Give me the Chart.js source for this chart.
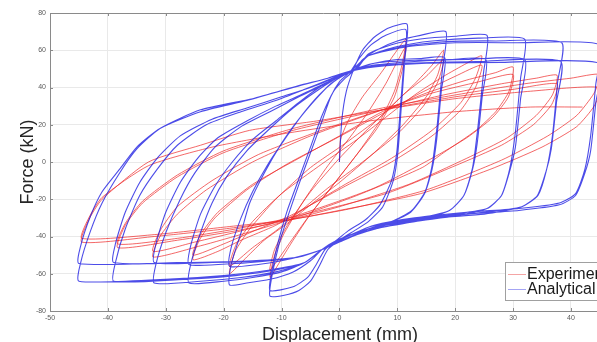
<!DOCTYPE html>
<html lang="en">
<head>
<meta charset="UTF-8">
<title>Force - Displacement</title>
<script src="https://cdn.jsdelivr.net/npm/chart.js"></script>
<style>
  html, body { margin: 0; padding: 0; background: #fff; }
</style>
</head>
<body>
<canvas id="myChart" width="597" height="342"></canvas>
<script>
// tick labels
const xTicks = [-50, -40, -30, -20, -10, 0, 10, 20, 30, 40]
const yTicks = [-80, -60, -40, -20, 0, 20, 40, 60, 80]

// Experimental loops [displacement mm, force kN]
const expLoop12 = [[0,0],[0.2,12],[1.5,22],[4,35],[7,47],[9.5,58],[11.5,66],
  [10.8,52],[9.5,38],[7,22],[3,4],[-1,-12],[-5,-28],[-8,-42],[-10,-52],[-12,-62],
  [-11.2,-50],[-9.5,-38],[-6,-20],[-2,-2],[2,14],[5,27],[8,42],[10,54],[11.5,62],
  [10.9,50],[9.5,35],[6.5,18],[2.5,2],[-1.5,-14],[-5.5,-30],[-8.5,-43],[-12,-58],
  [-11.2,-47],[-9,-34],[-5,-16],[0,2],[5,18],[9,30],[13,42],[16,52],[18,60]]
const expLoop18 = [[17,47],[15,35],[11,20],[6,5],[0,-11],[-5,-23],[-9,-33],[-13,-42],[-16,-51],[-19,-60],
  [-18,-48],[-15.5,-36],[-11,-20],[-5,-3],[1,10],[7,24],[11,36],[15,46],[18,55],
  [17,43],[14.5,30],[10,15],[4,0],[-2,-14],[-7,-27],[-11,-37],[-15,-46],[-19,-56],
  [-17.8,-44],[-15,-32],[-10,-17],[-3,-1],[3,12],[8,24],[13,36],[18,46],[22,53],[24.6,57]]
const expLoop25 = [[23.5,45],[21,32],[16,17],[9,2],[1,-12],[-6,-25],[-11,-34],[-17,-42],[-21,-48],[-25.3,-52.5],
  [-24.2,-42],[-21.5,-30],[-16,-15],[-9,-1],[-1,12],[7.4,26],[14,37],[20,46],[24.6,52],
  [23.5,40],[21,28],[16,14],[9,0],[1,-13],[-8.6,-29],[-14,-36],[-20,-44],[-25.3,-50],
  [-24,-39],[-21,-27],[-15,-12],[-7,2],[0,14],[7.4,27],[15,37],[22,44],[27,48],[30,51]]
const expLoop31 = [[29.3,38],[27,27],[23.6,17],[18,5],[14.3,-3],[3,-18],[-8.6,-31],[-16,-38],[-24,-45],[-32.2,-51],
  [-31,-40],[-28,-28],[-23,-15],[-15,0],[-5,14],[7.4,28],[16,37],[24,43],[30,47],
  [29.2,35],[26.5,24],[22,13],[16,2],[6,-14],[-8.6,-30],[-17,-37],[-25,-43],[-32.2,-48],
  [-31,-37],[-28,-24],[-22,-10],[-14,4],[-4,16],[7.4,28],[18,36],[28,42],[34,45],[37.6,46.6]]
const expLoop38 = [[36.8,36],[34,25],[29,13],[22,2],[12,-12],[0,-24],[-8.6,-31],[-18,-37],[-28,-42],[-38.3,-46],
  [-37,-34],[-34,-22],[-28,-8],[-20,5],[-8,17],[7.4,28],[20,35],[30,39],[37.6,42],
  [36.7,31],[33.5,20],[28,9],[20,-2],[8,-17],[-8.6,-30],[-18,-36],[-28,-41],[-38.3,-44],
  [-37,-33],[-34,-21],[-28,-7],[-20,6],[-8,18],[7.4,29],[20,36],[32,42],[40,45],[45,47]]
const expLoop45 = [[44,37],[41,25],[36,14],[28,1],[15,-15],[2,-25],[-8.6,-31],[-20,-36],[-32,-40],[-44.5,-43],
  [-43.3,-31],[-41,-20],[-33,0],[-24,9],[-15.5,17],[-4,22],[7.4,28],[20,34],[33,38],[45,40],
  [44,30],[41,19],[35,8],[26,-4],[14,-17],[0,-26],[-8.6,-31],[-20,-35],[-32,-39],[-44.5,-41],
  [-43.3,-30],[-41,-19],[-33,-2],[-22,8],[-10,15],[5,22],[20,27],[33,29.5],[42,29.5]]

// Analytical loops [displacement mm, force kN]
const anaLoop12 = [[0,0],[0.4,22],[1.2,38],[2.5,50],[4,60],[6,67],[8.5,72],[11.7,74],
  [11.3,55],[10.7,30],[10.1,5],[9.3,-10],[7.5,-24],[5,-32],[2,-38],[0,-42],[-2,-47],
  [-3.5,-56],[-5,-64],[-7,-69],[-9.5,-71.5],[-12,-72],
  [-11.7,-62],[-10.5,-45],[-9,-30],[-7,-12],[-5,5],[-3,22],[-1.5,35],[0,43],[2,49],
  [3.5,56],[5.5,63],[8,68],[11.5,71],
  [11.1,52],[10.5,28],[9.9,5],[9,-10],[7,-23],[4.5,-31],[1.5,-37],[-0.5,-42],[-2.5,-47],
  [-4,-55],[-5.5,-62],[-8,-67],[-12,-69],
  [-11.7,-59],[-10.5,-42],[-9,-26],[-7,-9],[-5,8],[-3,25],[-1,38],[1,45],[2.5,49]]
const anaLoop19 = [[4,55],[7,61],[10,65],[14,68],[18.4,70],
  [17.8,50],[16.9,20],[16,-2],[14.8,-16],[12.5,-26],[9,-32],[5,-35],[2,-39],[0,-42],[-3,-47],
  [-5,-53],[-8,-59],[-12,-63],[-16,-65],[-19,-66],
  [-18.7,-55],[-17,-38],[-15.5,-22],[-13,-6],[-10,10],[-7,23],[-4,34],[-1.5,42],[1,47],[3,50],
  [6,53],[10,55],[14,55.5],[18.2,56],
  [17.6,38],[16.8,12],[16,-4],[14.7,-17],[12.3,-27],[9,-32],[5,-36],[2,-40],[-0.5,-43],[-3,-47],
  [-6,-50],[-10,-53],[-14,-55],[-19,-56],
  [-18.7,-46],[-17,-30],[-15,-16],[-12.5,-2],[-9.5,12],[-6.5,25],[-3.5,36],[-1,43],[1.5,48],[3,50]]
const anaLoop26 = [[5,58],[9,63],[14,66],[20,67.5],[25.5,68],
  [24.9,48],[23.9,18],[23,-3],[21.5,-18],[19,-26],[14,-30],[8,-33],[3,-38],[0,-42],[-3,-47],
  [-6,-54],[-10,-59],[-15,-62],[-20,-64],[-26,-65],
  [-25.7,-55],[-24,-38],[-22,-22],[-19.5,-8],[-16,6],[-12,18],[-8,29],[-4,38],[-1,44],[2,49],
  [6,53],[12,54.5],[19,55],[25.3,55],
  [24.7,36],[23.8,10],[23,-4],[21.5,-18],[19,-26],[14,-31],[8,-34],[3,-39],[0,-43],[-3,-47],
  [-7,-51],[-12,-53],[-18,-54.5],[-26,-55],
  [-25.7,-45],[-24,-28],[-21.5,-13],[-18.5,0],[-15,12],[-11,22],[-7,32],[-3.5,40],[-0.5,45],[2,49]]
const anaLoop32 = [[5,57],[10,62],[16,65],[24,66.5],[32,66],
  [31.3,45],[30.4,16],[29.4,-4],[28,-18],[25.5,-25],[20,-28],[13,-31],[6,-35],[2,-39],[-1,-43],[-3,-47],
  [-6,-54],[-11,-59],[-17,-62],[-24,-64],[-32,-65],
  [-31.7,-55],[-30,-38],[-27.5,-20],[-25,-6],[-21.5,8],[-17,19],[-12,27],[-7,35],[-3,41],[0,46],[2,49],
  [6,52],[13,54],[22,55],[32,55],
  [31.3,34],[30.4,8],[29.4,-5],[28,-18],[25.5,-25],[20,-29],[13,-32],[6,-36],[2,-40],[-1,-44],[-3,-47],
  [-7,-51],[-13,-53],[-22,-54],[-32,-54],
  [-31.7,-44],[-30,-27],[-27.5,-11],[-24.5,2],[-21,13],[-16,22],[-11,30],[-6,37],[-2,43],[1,47],[2.5,49]]
const anaLoop39 = [[5,57],[11,62],[18,64.5],[27,65],[38.4,64],
  [37.7,43],[36.8,14],[35.8,-4],[34.3,-18],[31.5,-24],[25,-27],[17,-29],[9,-33],[3,-38],[0,-42],[-3,-47],
  [-6,-54],[-11,-58],[-18,-61],[-27,-63],[-39,-64],
  [-38.7,-54],[-37,-36],[-34.5,-18],[-31.5,-4],[-28,9],[-23,20],[-17,27],[-11,33],[-6,39],[-2,44],[1,48],
  [5,51],[12,53],[24,54],[38.2,54],
  [37.5,32],[36.6,7],[35.7,-5],[34.2,-18],[31.5,-24],[25,-28],[17,-30],[9,-34],[3,-39],[0,-43],[-3,-47],
  [-7,-51],[-14,-53],[-25,-54],[-39,-54],
  [-38.7,-44],[-37,-27],[-34.5,-11],[-31.5,2],[-27.5,14],[-22,23],[-16,29],[-10,35],[-5,40],[-1,45],[2,49]]
const anaLoop45 = [[5,57],[12,62],[20,64],[30,64],[45,63],
  [44.3,42],[43.4,14],[42.4,-4],[40.8,-17],[38,-22],[31,-25],[22,-27],[13,-30],[6,-34],[2,-39],[-1,-43],[-3,-47],
  [-6,-54],[-12,-58],[-20,-61],[-30,-63],[-45,-64],
  [-44.7,-54],[-43,-37],[-41,-22],[-38,-6],[-35,7],[-31,18],[-24,28],[-15,34],[-7,41],[-2,45],[1,48],
  [6,51],[15,53],[28,53.5],[45,53],
  [44.3,32],[43.4,6],[42.4,-6],[40.8,-18],[38,-23],[31,-26],[22,-28],[13,-31],[6,-35],[2,-40],[-1,-44],[-3,-47],
  [-7,-51],[-15,-53],[-28,-54],[-45,-54.5],
  [-44.7,-45],[-43,-29],[-41,-16],[-38,-4],[-35,8],[-31,18],[-24,27],[-16,33],[-8,40],[-2,45],[1,48]]

const experimental = [...expLoop12, ...expLoop18, ...expLoop25, ...expLoop31, ...expLoop38, ...expLoop45]
const analytical = [...anaLoop12, ...anaLoop19, ...anaLoop26, ...anaLoop32, ...anaLoop39, ...anaLoop45]
const toXY = (pts) => pts.map(([x, y]) => ({ x, y }))

const FONT = "'Liberation Sans', Arial, Helvetica, sans-serif"

// axis titles, top border, inward ticks and the legend box
const decorations = {
    id: 'decorations',
    afterDraw(chart) {
        const { ctx, chartArea: a, scales } = chart
        ctx.save()
        ctx.strokeStyle = '#8a8a8a'
        ctx.lineWidth = 1
        ctx.beginPath()
        ctx.moveTo(a.left, a.top + 0.5)
        ctx.lineTo(a.right, a.top + 0.5)
        xTicks.forEach(v => {
            const px = Math.round(scales.x.getPixelForValue(v)) + 0.5
            ctx.moveTo(px, a.top); ctx.lineTo(px, a.top + 3)
            ctx.moveTo(px, a.bottom); ctx.lineTo(px, a.bottom - 3)
        })
        yTicks.forEach(v => {
            const py = Math.round(scales.y.getPixelForValue(v)) + 0.5
            ctx.moveTo(a.left, py); ctx.lineTo(a.left + 3, py)
        })
        ctx.stroke()

        ctx.fillStyle = '#262626'
        ctx.font = '18px ' + FONT
        ctx.textAlign = 'center'
        ctx.textBaseline = 'alphabetic'
        ctx.fillText('Displacement (mm)', 340, 340)
        ctx.save()
        ctx.translate(33, 162)
        ctx.rotate(-Math.PI / 2)
        ctx.fillText('Force (kN)', 0, 0)
        ctx.restore()

        // legend
        ctx.fillStyle = '#fff'
        ctx.fillRect(506, 262, 100, 38)
        ctx.strokeStyle = '#a0a0a0'
        ctx.strokeRect(505.5, 262.5, 100, 38)
        const items = [
            { label: chart.data.datasets[0].label, color: 'rgba(235,90,90,0.55)', y: 274 },
            { label: chart.data.datasets[1].label, color: 'rgba(90,90,235,0.55)', y: 289 }
        ]
        ctx.font = '16px ' + FONT
        ctx.textAlign = 'left'
        ctx.textBaseline = 'middle'
        items.forEach(it => {
            ctx.strokeStyle = it.color
            ctx.beginPath()
            ctx.moveTo(508, it.y + 0.5); ctx.lineTo(526, it.y + 0.5)
            ctx.stroke()
            ctx.fillStyle = '#1a1a1a'
            ctx.fillText(it.label, 527, it.y + 1)
        })
        ctx.restore()
    }
}

const chart = new Chart(
    document.getElementById('myChart'),
    {
        type: 'scatter',
        data: {
            datasets: [{
                label: 'Experimental',
                data: toXY(experimental),
                showLine: true,
                borderColor: 'rgba(238,40,40,0.7)',
                borderWidth: 1,
                pointRadius: 0,
                tension: 0.2,
                order: 2
            }, {
                label: 'Analytical',
                data: toXY(analytical),
                showLine: true,
                borderColor: 'rgba(25,25,225,0.78)',
                borderWidth: 1.1,
                pointRadius: 0,
                tension: 0.2,
                order: 1
            }]
        },
        options: {
            responsive: false,
            animation: false,
            devicePixelRatio: 1,
            layout: { padding: { top: 13, right: 0, left: 0, bottom: 0 } },
            plugins: { legend: { display: false }, tooltip: { enabled: false } },
            scales: {
                x: {
                    type: 'linear',
                    min: -50,
                    max: 44.5,
                    afterBuildTicks: (s) => { s.ticks = xTicks.map(v => ({ value: v })) },
                    afterFit: (s) => { s.height = 31 },
                    ticks: { font: { size: 7, family: FONT }, color: '#5a5a5a', padding: 3, maxRotation: 0 },
                    grid: { color: '#e9e9e9', drawTicks: false },
                    border: { color: '#8a8a8a' }
                },
                y: {
                    min: -80,
                    max: 80,
                    afterBuildTicks: (s) => { s.ticks = yTicks.map(v => ({ value: v })) },
                    afterFit: (s) => { s.width = 50 },
                    ticks: { font: { size: 7, family: FONT }, color: '#5a5a5a', padding: 4 },
                    grid: { color: '#e9e9e9', drawTicks: false },
                    border: { color: '#8a8a8a' }
                }
            }
        },
        plugins: [decorations]
    })
</script>
</body>
</html>
